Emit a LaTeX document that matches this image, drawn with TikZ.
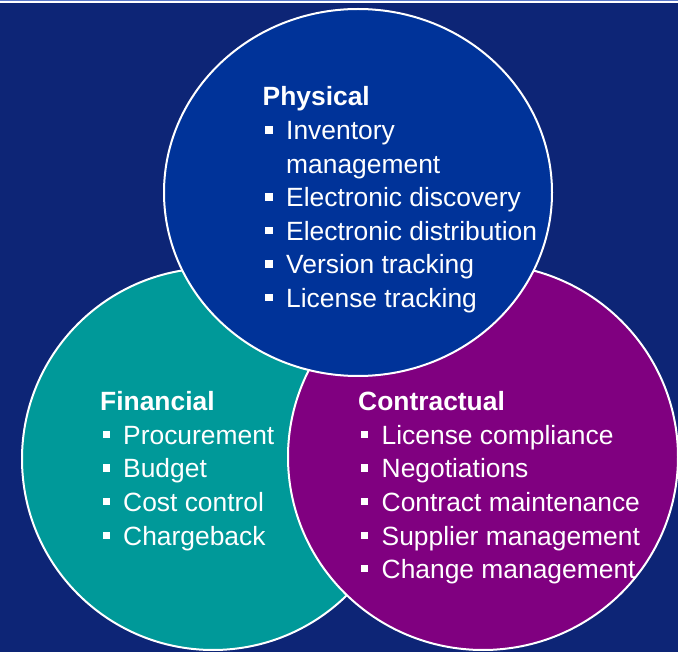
\documentclass[tikz,border=0pt]{standalone}
\usepackage{fontspec}
\setmainfont{Liberation Sans}
\definecolor{bgnavy}{HTML}{0D2576}
\definecolor{topblue}{HTML}{5A78C8}
\definecolor{physblue}{HTML}{003399}
\definecolor{finteal}{HTML}{009999}
\definecolor{conpurple}{HTML}{800080}
\tikzset{
  ring/.style={draw=white, line width=2pt},
  txt/.style={text=white, inner sep=0pt, anchor=base west, font=\fontsize{26.4}{33.6}\selectfont},
  head/.style={txt, font=\fontsize{26.4}{33.6}\selectfont\bfseries},
  bulletsq/.style={fill=white, inner sep=0pt, minimum size=7.3pt, anchor=south west, draw=none}
}
\begin{document}
\begin{tikzpicture}[x=1pt,y=-1pt]
\useasboundingbox (0,0) rectangle (678,652);
\fill[bgnavy] (0,0) rectangle (678,652);
\fill[topblue] (0,0) rectangle (678,1.2);
\fill[white] (0,1.2) rectangle (678,3.5);
% circles
\draw[ring, fill=finteal] (213,459) circle[radius=191];
\draw[ring, fill=conpurple] (483,457) ellipse[x radius=195, y radius=193];
\draw[ring, fill=physblue] (358,192.5) ellipse[x radius=194, y radius=183.5];
% Physical
\node[head] (ph) at (262.5,106) {Physical};
\foreach \t/\y [count=\i] in {Inventory/140, Electronic discovery/207, Electronic distribution/240.5, Version tracking/274, License tracking/307.5}{
  \node[bulletsq] (pb\i) at (265,\y-6) {};
  \node[txt] (pt\i) at (286,\y) {\t};
}
\node[txt] (pt1b) at (286,173.5) {management};
% Financial
\node[head] (fh) at (100,411) {Financial};
\foreach \t/\y [count=\i] in {Procurement/444.5, Budget/478, Cost control/511.5, Chargeback/545}{
  \node[bulletsq] (fb\i) at (102.3,\y-6) {};
  \node[txt] (ft\i) at (123,\y) {\t};
}
% Contractual
\node[head] (ch) at (358,411) {Contractual};
\foreach \t/\y [count=\i] in {License compliance/444.5, Negotiations/478, Contract maintenance/511.5, Supplier management/545, Change management/578.5}{
  \node[bulletsq] (cb\i) at (360.3,\y-6) {};
  \node[txt] (ct\i) at (381.5,\y) {\t};
}
\end{tikzpicture}
\end{document}
